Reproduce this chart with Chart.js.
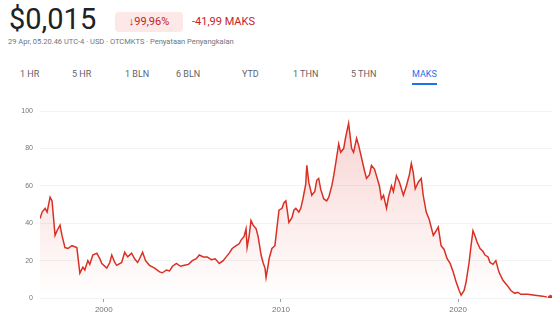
<!DOCTYPE html>
<html>
<head>
<meta charset="utf-8">
<script src="https://cdn.jsdelivr.net/npm/chart.js@4"></script>
<style>
  body { margin: 0; width: 557px; height: 322px; background: #fff; font-family: Roboto, Arial, sans-serif; position: relative; overflow: hidden; }
  .price { position: absolute; left: 9px; top: 2px; font-size: 29px; color: #202124; }
  .chip { position: absolute; left: 115px; top: 12px; width: 68px; height: 20px; background: #fce8e6; border-radius: 4px; color: #c5221f; font-size: 11px; line-height: 20px; text-align: center; }
  .change { position: absolute; left: 192px; top: 13px; font-size: 11px; line-height: 18px; color: #c5221f; }
  .sub { position: absolute; left: 8px; top: 37px; font-size: 7.5px; color: #70757a; }
  .tabs { position: absolute; top: 69px; left: 0; font-size: 9px; color: #5f6368; }
  .tabs span { position: absolute; white-space: nowrap; }
  .tabs .on { color: #1a73e8; }
  .tabs .on::after { content: ''; position: absolute; left: 0; right: 0; top: 14px; height: 2px; background: #1a73e8; }
  #wrap { position: absolute; left: 0; top: 100px; width: 557px; height: 222px; }
</style>
</head>
<body>
<div class="price">$0,015</div>
<div class="chip">↓99,96%</div>
<div class="change">-41,99 MAKS</div>
<div class="sub">29 Apr, 05.20.46 UTC-4 · USD · OTCMKTS · Penyataan Penyangkalan</div>
<div class="tabs">
  <span style="left:20px">1 HR</span>
  <span style="left:72px">5 HR</span>
  <span style="left:125px">1 BLN</span>
  <span style="left:176px">6 BLN</span>
  <span style="left:242px">YTD</span>
  <span style="left:293px">1 THN</span>
  <span style="left:351px">5 THN</span>
  <span style="left:412px" class="on">MAKS</span>
</div>
<div id="wrap"><canvas id="chart"></canvas></div>
<script>
// tanggal (tahun desimal) dan harga
const years = [
  1996.40, 1996.52, 1996.69, 1996.80, 1996.97, 1997.08, 1997.25, 1997.36, 1997.53, 1997.64,
  1997.81, 1997.98, 1998.20, 1998.48, 1998.65, 1998.82, 1998.93, 1999.10, 1999.21, 1999.38,
  1999.61, 1999.78, 1999.89, 2000.17, 2000.34, 2000.45, 2000.62, 2000.73, 2001.01, 2001.18,
  2001.35, 2001.57, 2001.74, 2001.91, 2002.02, 2002.19, 2002.36, 2002.58, 2002.87, 2003.15,
  2003.31, 2003.54, 2003.71, 2003.88, 2004.10, 2004.33, 2004.55, 2004.78, 2005.00, 2005.22,
  2005.39, 2005.62, 2005.84, 2006.07, 2006.29, 2006.52, 2006.74, 2006.91, 2007.08, 2007.25,
  2007.47, 2007.64, 2007.75, 2007.92, 2008.03, 2008.09, 2008.20, 2008.31, 2008.43, 2008.60,
  2008.71, 2008.88, 2008.99, 2009.10, 2009.16, 2009.27, 2009.33, 2009.49, 2009.66, 2009.78,
  2009.89, 2010.06, 2010.17, 2010.28, 2010.45, 2010.62, 2010.73, 2010.84, 2011.01, 2011.12,
  2011.24, 2011.40, 2011.46, 2011.57, 2011.74, 2011.91, 2012.02, 2012.13, 2012.25, 2012.42,
  2012.58, 2012.70, 2012.87, 2012.98, 2013.09, 2013.26, 2013.37, 2013.54, 2013.65, 2013.82,
  2013.99, 2014.10, 2014.27, 2014.38, 2014.55, 2014.72, 2014.83, 2015.00, 2015.11, 2015.28,
  2015.39, 2015.56, 2015.67, 2015.79, 2015.96, 2016.07, 2016.24, 2016.35, 2016.52, 2016.69,
  2016.91, 2017.08, 2017.25, 2017.36, 2017.47, 2017.58, 2017.75, 2017.92, 2018.03, 2018.20,
  2018.37, 2018.60, 2018.76, 2018.88, 2019.04, 2019.21, 2019.38, 2019.55, 2019.72, 2019.89,
  2020.06, 2020.17, 2020.34, 2020.45, 2020.62, 2020.73, 2020.84, 2020.96, 2021.07, 2021.24,
  2021.40, 2021.52, 2021.69, 2021.80, 2021.97, 2022.13, 2022.30, 2022.53, 2022.75, 2022.98,
  2023.20, 2023.37, 2023.54, 2023.93, 2024.33, 2024.78, 2025.22
];
const prices = [
  42.5, 46, 48, 46, 54, 52, 33.5, 36, 39, 33.5,
  27, 26.5, 28, 27, 13.3, 16.5, 15, 20, 18, 23,
  24, 21, 18.5, 16, 19, 23, 19, 17.5, 19, 24.5,
  22, 24, 21, 19, 21, 24.5, 20, 17.5, 16, 14,
  13.5, 15, 14.5, 17, 18.5, 17, 17.5, 18, 20, 21,
  23, 22, 22, 20.5, 21, 18.5, 20, 22, 24, 26.5,
  28, 29, 31, 33, 37, 27, 33, 41.5, 39, 37,
  33, 23, 19, 16, 11, 17, 21, 26.5, 28, 38,
  47, 48, 51, 52, 40.5, 43, 47, 48, 46, 48,
  53, 61, 71, 62, 55, 57, 63, 64, 58, 53,
  52, 54, 60, 65.5, 72, 82.5, 78, 80, 86, 93.5,
  80, 78, 85.5, 82, 75, 68, 64, 66, 71, 69,
  65.5, 60, 53, 55, 48, 54, 60, 57, 65.5, 62,
  55, 60, 66, 72, 67, 58.5, 62, 64, 55, 46,
  42, 33.5, 36, 38, 28, 26, 21, 18.5, 14, 8.5,
  4, 1.5, 4, 8.5, 19, 28, 36, 33, 30, 26.5,
  25, 23, 22, 19, 18, 20, 14, 9.5, 7, 4,
  2.5, 3, 2, 2, 1.5, 1, 0
];
const yTicks = [0, 20, 40, 60, 80, 100];
const xTicks = [2000, 2010, 2020];

const points = years.map((y, i) => ({ x: y, y: prices[i] }));
const lastIdx = points.length - 1;

new Chart(document.getElementById('chart'), {
  type: 'line',
  data: {
    datasets: [{
      data: points,
      borderColor: '#d93025',
      borderWidth: 1.5,
      tension: 0,
      fill: 'origin',
      backgroundColor: (ctx) => {
        const area = ctx.chart.chartArea;
        if (!area) return 'rgba(217,48,37,0.1)';
        const g = ctx.chart.ctx.createLinearGradient(0, area.top, 0, area.bottom);
        g.addColorStop(0, 'rgba(217,48,37,0.22)');
        g.addColorStop(1, 'rgba(217,48,37,0)');
        return g;
      },
      pointRadius: (ctx) => ctx.dataIndex === lastIdx ? 3.5 : 0,
      pointBackgroundColor: '#d93025',
      pointBorderColor: '#fff',
      pointBorderWidth: 1
    }]
  },
  options: {
    responsive: true,
    maintainAspectRatio: false,
    animation: false,
    layout: { padding: { top: 10, right: 3, left: 0, bottom: 0 } },
    plugins: { legend: { display: false }, tooltip: { enabled: false } },
    scales: {
      x: {
        type: 'linear',
        min: 1996.4,
        max: 2025.3,
        afterBuildTicks: (axis) => { axis.ticks = xTicks.map(v => ({ value: v })); },
        afterFit: (axis) => { axis.height = 24; },
        grid: { drawOnChartArea: false, tickLength: 4, color: '#9aa0a6' },
        border: { display: false },
        ticks: { callback: (v) => String(v), color: '#70757a', font: { size: 8 }, padding: 3, maxRotation: 0 }
      },
      y: {
        min: 0,
        max: 100,
        afterBuildTicks: (axis) => { axis.ticks = yTicks.map(v => ({ value: v })); },
        afterFit: (axis) => { axis.width = 40; },
        grid: { color: '#f1f3f4', drawTicks: false },
        border: { display: false },
        ticks: { color: '#70757a', font: { size: 7 }, padding: 7 }
      }
    }
  }
});
</script>
</body>
</html>
